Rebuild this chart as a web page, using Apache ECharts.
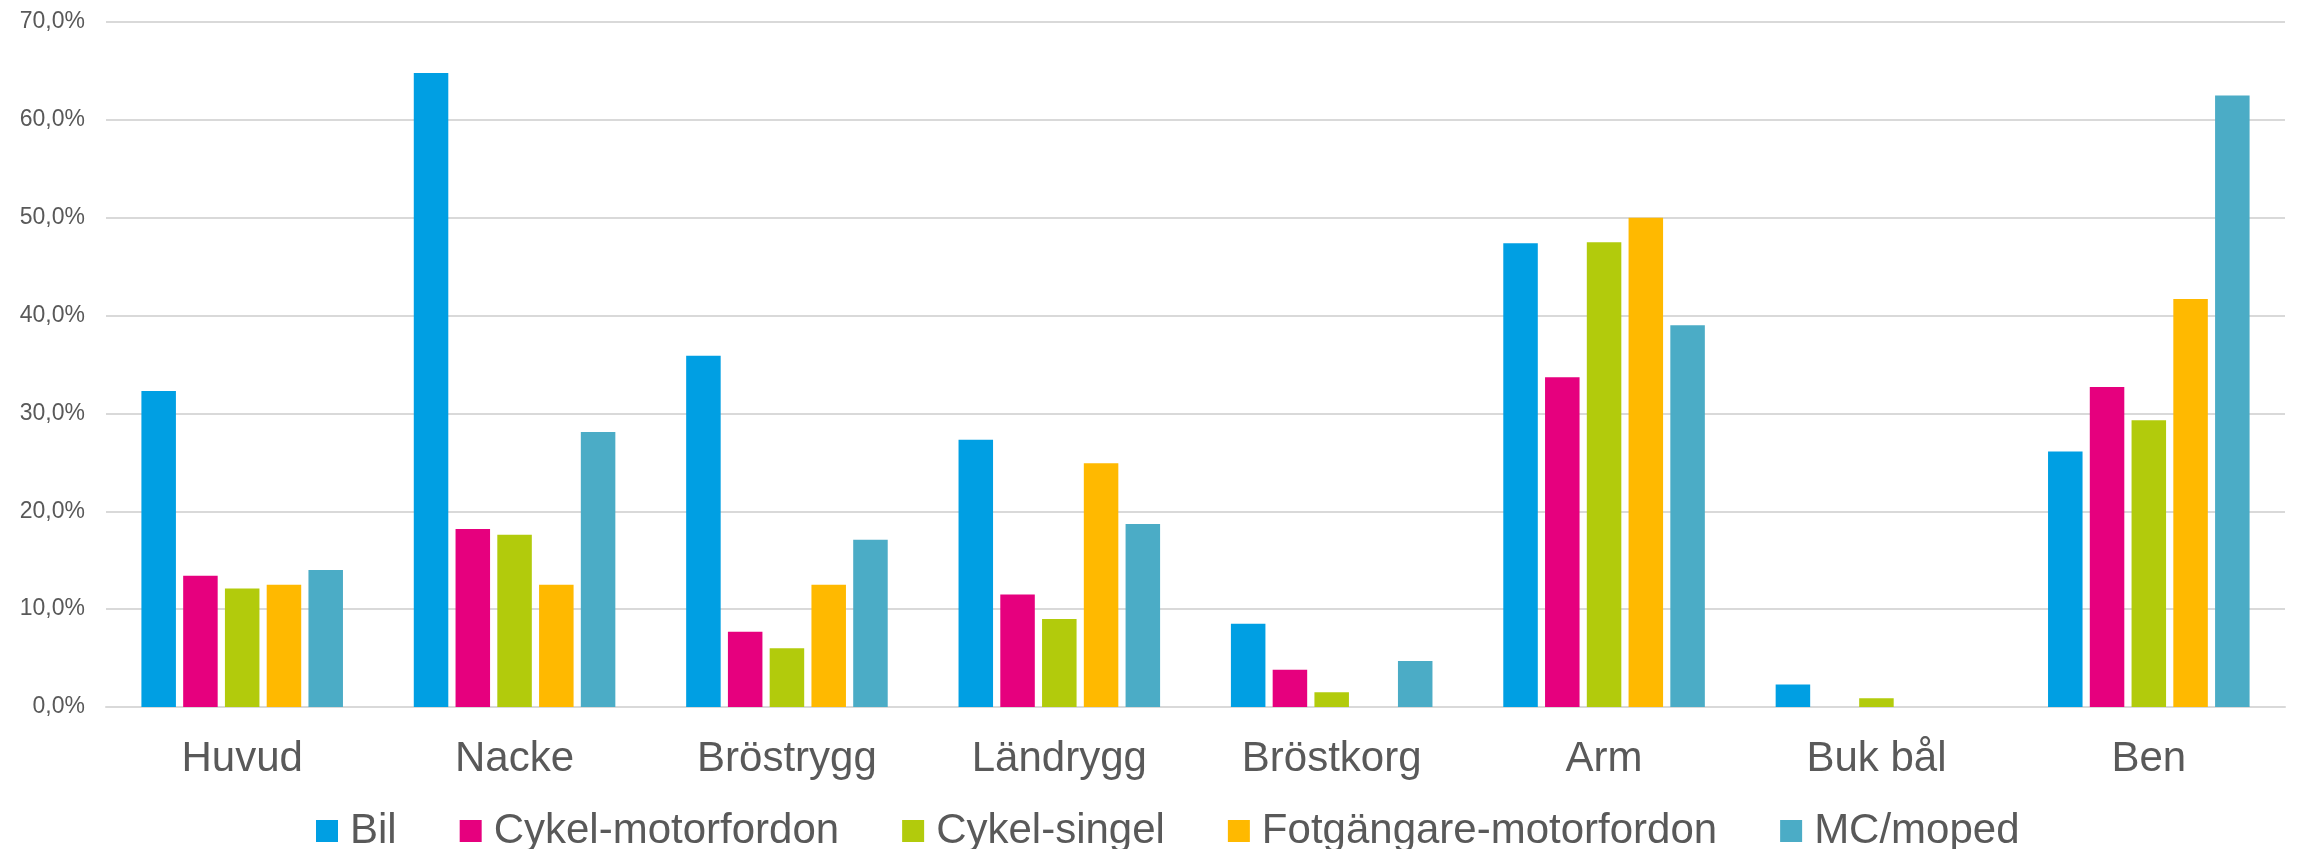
<!DOCTYPE html>
<html>
<head>
<meta charset="utf-8">
<script src="https://cdn.jsdelivr.net/npm/echarts@6/dist/echarts.min.js"></script>
<style>
  html, body { margin: 0; padding: 0; background: #fff; }
  #chart { width: 2300px; height: 849px; }
</style>
</head>
<body>
<div id="chart"></div>
<script>
// kroppsdelar
const categories = ['Huvud', 'Nacke', 'Bröstrygg', 'Ländrygg', 'Bröstkorg', 'Arm', 'Buk bål', 'Ben']
const seriesNames = ['Bil', 'Cykel-motorfordon', 'Cykel-singel', 'Fotgängare-motorfordon', 'MC/moped']
// andel (%)
const bil = [32.3, 64.8, 35.9, 27.3, 8.5, 47.4, 2.3, 26.1]
const cykelMotor = [13.4, 18.2, 7.7, 11.5, 3.8, 33.7, 0, 32.7]
const cykelSingel = [12.1, 17.6, 6.0, 9.0, 1.5, 47.5, 0.9, 29.3]
const fotgangare = [12.5, 12.5, 12.5, 24.9, 0, 50.0, 0, 41.7]
const mcMoped = [14.0, 28.1, 17.1, 18.7, 4.7, 39.0, 0, 62.5]
const yTicks = [0, 10, 20, 30, 40, 50, 60, 70]

const colors = ['#009FE3', '#E6007E', '#B2CB0C', '#FFB900', '#4BACC6']
const values = [bil, cykelMotor, cykelSingel, fotgangare, mcMoped]
const font = 'Arial, "Liberation Sans", sans-serif'

const chart = echarts.init(document.getElementById('chart'))

const option = {
  color: colors,
  animation: false,
  textStyle: { fontFamily: font },
  grid: { left: 106, right: 15, top: 22, bottom: 142, containLabel: false },
  legend: {
    data: seriesNames,
    left: 311,
    top: 805,
    icon: 'rect',
    itemWidth: 22,
    itemHeight: 22,
    itemGap: 63,
    textStyle: { fontSize: 42, color: '#595959', fontFamily: font, padding: [0, 0, 0, 7] }
  },
  xAxis: {
    type: 'category',
    data: categories,
    axisTick: { show: false },
    axisLine: { lineStyle: { color: '#D9D9D9', width: 2 } },
    axisLabel: { fontSize: 42, color: '#595959', margin: 31, fontFamily: font }
  },
  yAxis: {
    type: 'value',
    min: yTicks[0],
    max: yTicks[yTicks.length - 1],
    interval: 10,
    axisLine: { show: false },
    axisTick: { show: false },
    splitLine: { lineStyle: { color: '#D9D9D9', width: 2 } },
    axisLabel: {
      fontSize: 23,
      color: '#595959',
      margin: 21,
      fontFamily: font,
      formatter: v => v.toFixed(1).replace('.', ',') + '%'
    }
  },
  series: seriesNames.map((name, i) => ({
    name: name,
    type: 'bar',
    data: values[i],
    barGap: '21%',
    barCategoryGap: '26%'
  }))
}

chart.setOption(option)
</script>
</body>
</html>
